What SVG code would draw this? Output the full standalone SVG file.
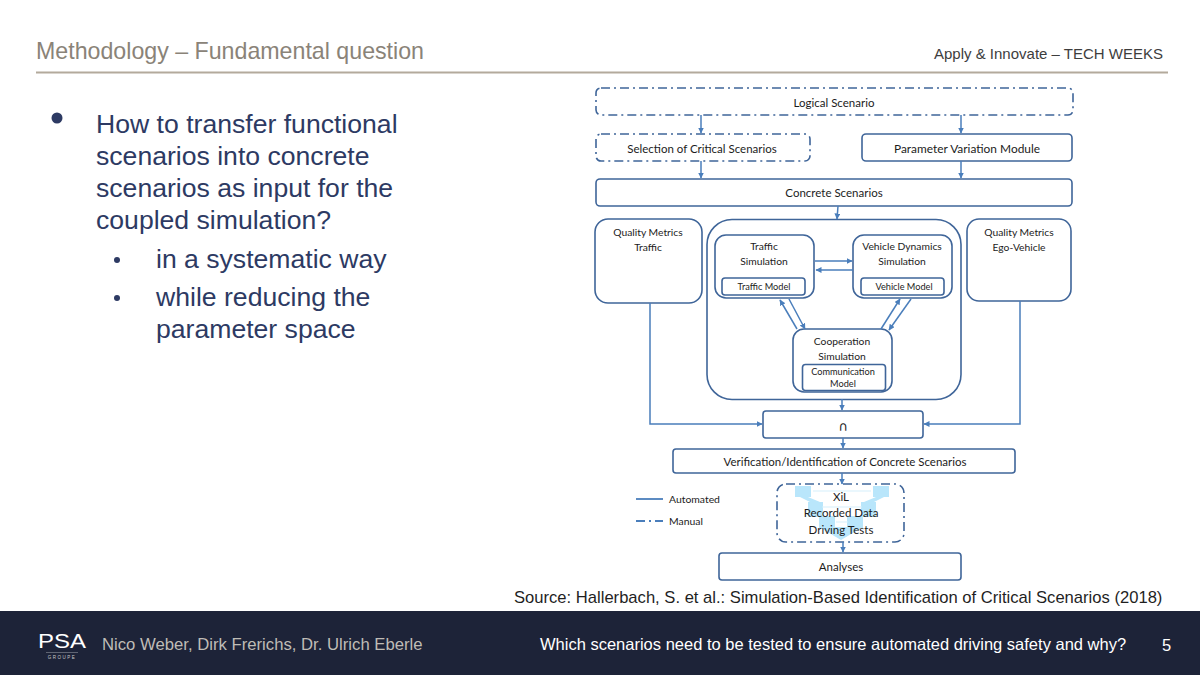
<svg xmlns="http://www.w3.org/2000/svg" width="1200" height="675" viewBox="0 0 1200 675">
<style>
.s{font-family:"Liberation Sans",Arial,sans-serif}
.d{font-family:Lato,"Noto Sans",sans-serif;font-size:11.500px;fill:#1c1c1c;text-anchor:middle}
.n{font-size:10.300px}
.m{font-size:9.2px}
.lg{font-size:10.400px;text-anchor:start}
.b{fill:#fff;stroke:#3f6599;stroke-width:1.6}
.da{stroke-dasharray:9 4 2 4}
.c{fill:none;stroke:#4a7ebb;stroke-width:1.5}
.t{fill:#2d3a63;font-size:26.600px}
.f{fill:#bfbcb6;font-size:16.700px}
.w{fill:#fff;font-size:16.500px}
.l{fill:#b9e6fb}
.la{fill:none;stroke:#d5f0fc;stroke-width:1.2}
</style>
<defs>
<marker id="a" markerWidth="7" markerHeight="7" refX="5.500" refY="3" orient="auto" markerUnits="userSpaceOnUse"><path d="M0 0L6 3L0 6z" fill="#4a7ebb"/></marker>
</defs>
<rect width="1200" height="675" fill="#fff"/>
<g id="header">
<text class="s" x="36" y="59" font-size="23.200" fill="#8a8378">Methodology – Fundamental question</text>
<text class="s" x="1163" y="59" font-size="15" fill="#3d3d3d" text-anchor="end">Apply &amp; Innovate – TECH WEEKS</text>
<rect x="36" y="71.500" width="1132" height="2" fill="#b3aa9c"/>
</g>
<g id="bullets" class="s">
<circle cx="57" cy="118" r="5.500" fill="#2d3a63"/>
<text class="t" x="96" y="133">How to transfer functional</text>
<text class="t" x="96" y="165">scenarios into concrete</text>
<text class="t" x="96" y="197">scenarios as input for the</text>
<text class="t" x="96" y="229">coupled simulation?</text>
<circle cx="117" cy="260" r="3" fill="#2d3a63"/>
<text class="t" x="156" y="268">in a systematic way</text>
<circle cx="117" cy="298" r="3" fill="#2d3a63"/>
<text class="t" x="156" y="306">while reducing the</text>
<text class="t" x="156" y="338">parameter space</text>
</g>
<g id="logical-scenario"><rect class="b da" x="596" y="88" width="477" height="27" rx="5"/><text class="d" x="834" y="107">Logical Scenario</text></g>
<g id="selection"><rect class="b da" x="596" y="134" width="214" height="27" rx="5"/><text class="d" x="702" y="153">Selection of Critical Scenarios</text></g>
<g id="parameter-variation"><rect class="b" x="862" y="134" width="210" height="27" rx="4"/><text class="d" x="967" y="153" style="font-size:11.900px">Parameter Variation Module</text></g>
<g id="concrete-scenarios"><rect class="b" x="596" y="179" width="476" height="27" rx="4"/><text class="d" x="834" y="197">Concrete Scenarios</text></g>
<g id="qm-traffic"><rect class="b" x="595" y="219" width="107" height="84" rx="13"/><text class="d n" x="648" y="236">Quality Metrics</text><text class="d n" x="648" y="251">Traffic</text></g>
<g id="simulation-group"><rect class="b" x="707" y="219.500" width="254" height="180" rx="25"/></g>
<g id="traffic-sim"><rect class="b" x="715" y="235" width="99" height="63" rx="11"/><text class="d n" x="764" y="250">Traffic</text><text class="d n" x="764" y="265">Simulation</text><rect class="b" x="722" y="278" width="83" height="17" rx="3"/><text class="d m" x="764" y="290">Traffic Model</text></g>
<g id="vehicle-sim"><rect class="b" x="853" y="235" width="99" height="63" rx="11"/><text class="d n" x="902" y="250">Vehicle Dynamics</text><text class="d n" x="902" y="265">Simulation</text><rect class="b" x="861" y="278" width="83" height="17" rx="3"/><text class="d m" x="904" y="290">Vehicle Model</text></g>
<g id="qm-ego"><rect class="b" x="967" y="219" width="104" height="82" rx="12"/><text class="d n" x="1019" y="236">Quality Metrics</text><text class="d n" x="1019" y="251">Ego-Vehicle</text></g>
<g id="cooperation-sim"><rect class="b" x="793" y="329" width="99" height="63" rx="11"/><text class="d n" x="842" y="345">Cooperation</text><text class="d n" x="842" y="360">Simulation</text><rect class="b" x="802.500" y="364.500" width="83" height="26" rx="3"/><text class="d m" x="843" y="375">Communication</text><text class="d m" x="843" y="387">Model</text></g>
<g id="intersection"><rect class="b" x="763" y="411" width="160" height="27" rx="3"/><text x="843" y="431" font-family="DejaVu Sans, sans-serif" font-size="13" fill="#1c1c1c" text-anchor="middle">∩</text></g>
<g id="verification"><rect class="b" x="673" y="449" width="342" height="24" rx="3"/><text class="d" x="845" y="466">Verification/Identification of Concrete Scenarios</text></g>
<g id="xil">
<rect class="b da" x="777" y="484" width="127" height="58" rx="9"/>
<rect class="l" x="795" y="486" width="16" height="11"/>
<rect class="l" x="873" y="486" width="16" height="11"/>
<path class="l" d="M800 497H808L820 502H810z"/>
<path class="l" d="M884 497H876L864 502H874z"/>
<rect class="l" x="808" y="502" width="15" height="15"/>
<rect class="l" x="861" y="502" width="15" height="15"/>
<rect class="l" x="819" y="516" width="16" height="12"/>
<rect class="l" x="847" y="516" width="16" height="12"/>
<path class="l" d="M819 527H863L841 540z"/>
<path class="la" d="M813 491H871M822 507H862M836 522H848"/>
<text class="d" x="841" y="501">XiL</text>
<text class="d" x="841" y="517">Recorded Data</text>
<text class="d" x="841" y="534">Driving Tests</text>
</g>
<g id="analyses"><rect class="b" x="719" y="553" width="242" height="27" rx="3"/><text class="d" x="841" y="571">Analyses</text></g>
<g id="connectors">
<path class="c" d="M701 115V133" marker-end="url(#a)"/>
<path class="c" d="M961 115V133" marker-end="url(#a)"/>
<path class="c" d="M701 161V178" marker-end="url(#a)"/>
<path class="c" d="M961 161V178" marker-end="url(#a)"/>
<path class="c" d="M838 206L837 219" marker-end="url(#a)"/>
<path class="c" d="M815 261H852" marker-end="url(#a)"/>
<path class="c" d="M853 270H816" marker-end="url(#a)"/>
<path class="c" d="M797 329L780 300" marker-end="url(#a)"/>
<path class="c" d="M789 299L805 329" marker-end="url(#a)"/>
<path class="c" d="M881 329L900 299" marker-end="url(#a)"/>
<path class="c" d="M911 299L889 330" marker-end="url(#a)"/>
<path class="c" d="M842 399V410" marker-end="url(#a)"/>
<path class="c" d="M650 303V424H762" marker-end="url(#a)"/>
<path class="c" d="M1020 301V424H924" marker-end="url(#a)"/>
<path class="c" d="M843 438V448" marker-end="url(#a)"/>
<path class="c" d="M842 473V484" marker-end="url(#a)"/>
<path class="c" d="M843 542V552" marker-end="url(#a)"/>
</g>
<g id="legend">
<path d="M636 499H663" fill="none" stroke="#4a7ebb" stroke-width="1.800"/>
<text class="d lg" x="669" y="503">Automated</text>
<path d="M636 521H663" fill="none" stroke="#4a7ebb" stroke-width="1.800" stroke-dasharray="9 4 2 4"/>
<text class="d lg" x="669" y="525">Manual</text>
</g>
<text class="s" x="514" y="603" font-size="16.600" fill="#1f1f1f">Source: Hallerbach, S. et al.: Simulation-Based Identification of Critical Scenarios (2018)</text>
<g id="footer">
<rect y="611" width="1200" height="64" fill="#1d2338"/>
<text class="s" x="38" y="648" font-size="21" fill="#fff" textLength="48" lengthAdjust="spacingAndGlyphs">PSA</text>
<rect x="46" y="652" width="32" height="0.600" fill="#8d8f99"/>
<text class="s" x="62" y="659" font-size="4.500" fill="#c8c8c8" text-anchor="middle" letter-spacing="1.500">GROUPE</text>
<text class="s f" x="102" y="650">Nico Weber, Dirk Frerichs, Dr. Ulrich Eberle</text>
<text class="s w" x="540" y="650">Which scenarios need to be tested to ensure automated driving safety and why?</text>
<text class="s w" x="1162" y="651">5</text>
</g>
</svg>
